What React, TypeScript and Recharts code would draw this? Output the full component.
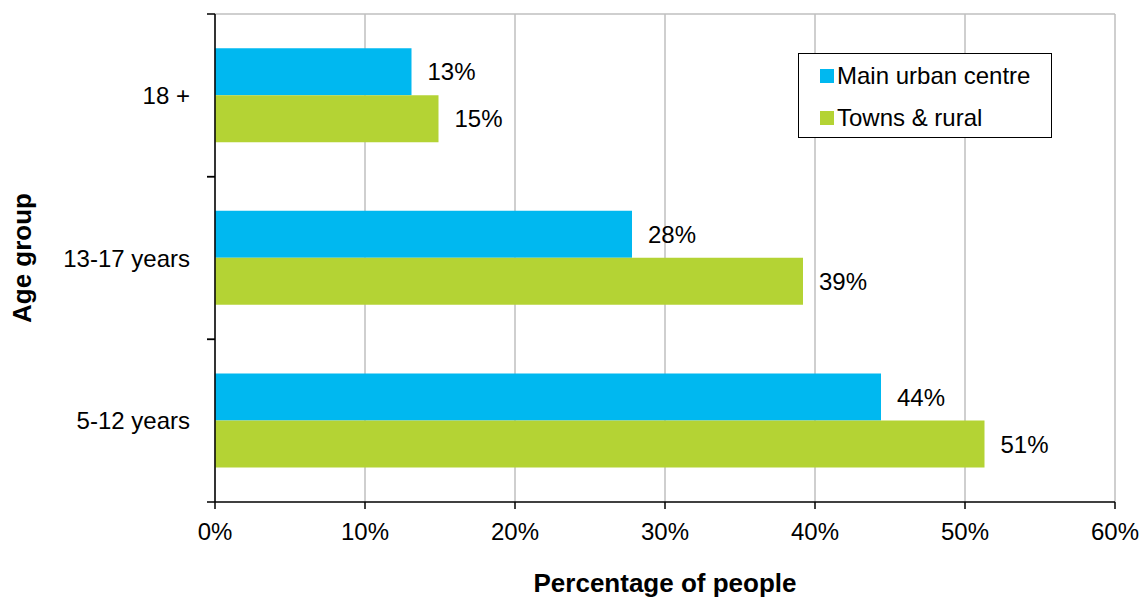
import React from 'react';
import { BarChart, Bar, XAxis, YAxis, CartesianGrid, Legend, LabelList, Label } from 'recharts';

// Age groups, top to bottom
const groups = ['18 +', '13-17 years', '5-12 years'];
// Share of people (%)
const mainUrban = [13.1, 27.8, 44.4];
const townsRural = [14.9, 39.2, 51.3];
// X axis ticks (%)
const xTicks = [0, 10, 20, 30, 40, 50, 60];

const data = groups.map((g, i) => ({ group: g, urban: mainUrban[i], rural: townsRural[i] }));

const FONT = '"Liberation Sans", Arial, sans-serif';
const BLUE = '#00B8F0';
const GREEN = '#B4D334';

// category tick: label plus the short marks at band edges (Excel style)
const CategoryTick = (props: any) => {
  const { x, y, payload } = props;
  const half = payload && payload.offset ? payload.offset : 81;
  return (
    <g>
      <line x1={x} x2={x + 8} y1={y - half} y2={y - half} stroke="#000" strokeWidth={1.5} />
      <line x1={x} x2={x + 8} y1={y + half} y2={y + half} stroke="#000" strokeWidth={1.5} />
      <text x={x - 17} y={y} textAnchor="end" dominantBaseline="central" fontSize={24} fontFamily={FONT} fill="#000">
        {payload.value}
      </text>
    </g>
  );
};

const renderLegend = (props: any) => {
  const { payload } = props;
  return (
    <div
      style={{
        width: 254,
        height: 85,
        boxSizing: 'border-box',
        border: '1.5px solid #000',
        background: '#fff',
        paddingTop: 8,
        paddingLeft: 21,
        fontFamily: FONT,
        fontSize: 24,
        color: '#000',
      }}
    >
      {payload.map((entry: any, i: number) => (
        <div key={`leg-${i}`} style={{ display: 'flex', alignItems: 'center', height: 28, marginBottom: i === 0 ? 14 : 0 }}>
          <span style={{ display: 'inline-block', width: 14, height: 14, background: entry.color, marginRight: 3 }} />
          <span>{entry.value}</span>
        </div>
      ))}
    </div>
  );
};

const App: React.FC = () => {
  return (
    <div style={{ position: 'absolute', left: 0, top: 0, background: '#fff' }}>
      <BarChart
        width={1148}
        height={599}
        data={data}
        layout="vertical"
        margin={{ top: 14, right: 33, bottom: 0, left: 0 }}
        barCategoryGap="21%"
        barGap={0}
      >
        <CartesianGrid
          vertical={true}
          horizontal={true}
          stroke="#BFBFBF"
          strokeWidth={1.5}
          horizontalCoordinatesGenerator={({ offset }: any) => [offset.top]}
        />
        <XAxis
          type="number"
          domain={[0, 60]}
          ticks={xTicks}
          tickFormatter={(v: number) => `${v}%`}
          height={97}
          axisLine={{ stroke: '#000', strokeWidth: 1.5 }}
          tickLine={{ stroke: '#000', strokeWidth: 1.5 }}
          tickSize={7}
          tickMargin={14}
          tick={{ fontSize: 24, fontFamily: FONT, fill: '#000' }}
        >
          <Label
            content={({ viewBox }: any) => (
              <text
                x={viewBox.x + viewBox.width / 2}
                y={viewBox.y + 81}
                textAnchor="middle"
                dominantBaseline="central"
                fontSize={26}
                fontWeight="bold"
                fontFamily={FONT}
                fill="#000"
              >
                Percentage of people
              </text>
            )}
          />
        </XAxis>
        <YAxis
          type="category"
          dataKey="group"
          width={215}
          axisLine={{ stroke: '#000', strokeWidth: 1.5 }}
          tickLine={false}
          tick={<CategoryTick />}
          interval={0}
        >
          <Label
            content={({ viewBox }: any) => {
              const cx = viewBox.x + 22;
              const cy = viewBox.y + viewBox.height / 2;
              return (
                <text
                  x={cx}
                  y={cy}
                  transform={`rotate(-90 ${cx} ${cy})`}
                  textAnchor="middle"
                  dominantBaseline="central"
                  fontSize={26}
                  fontWeight="bold"
                  fontFamily={FONT}
                  fill="#000"
                >
                  Age group
                </text>
              );
            }}
          />
        </YAxis>
        <Legend
          layout="horizontal"
          verticalAlign="middle"
          align="center"
          content={renderLegend}
          wrapperStyle={{ position: 'absolute', left: 798, top: 53, width: 254, height: 85 }}
        />
        <Bar dataKey="urban" name="Main urban centre" fill={BLUE} isAnimationActive={false}>
          <LabelList
            dataKey="urban"
            position="right"
            offset={16}
            formatter={(v: any) => `${Math.round(Number(v))}%`}
            style={{ fontSize: 24, fontFamily: FONT, fill: '#000' }}
          />
        </Bar>
        <Bar dataKey="rural" name="Towns & rural" fill={GREEN} isAnimationActive={false}>
          <LabelList
            dataKey="rural"
            position="right"
            offset={16}
            formatter={(v: any) => `${Math.round(Number(v))}%`}
            style={{ fontSize: 24, fontFamily: FONT, fill: '#000' }}
          />
        </Bar>
      </BarChart>
    </div>
  );
};

export default App;
